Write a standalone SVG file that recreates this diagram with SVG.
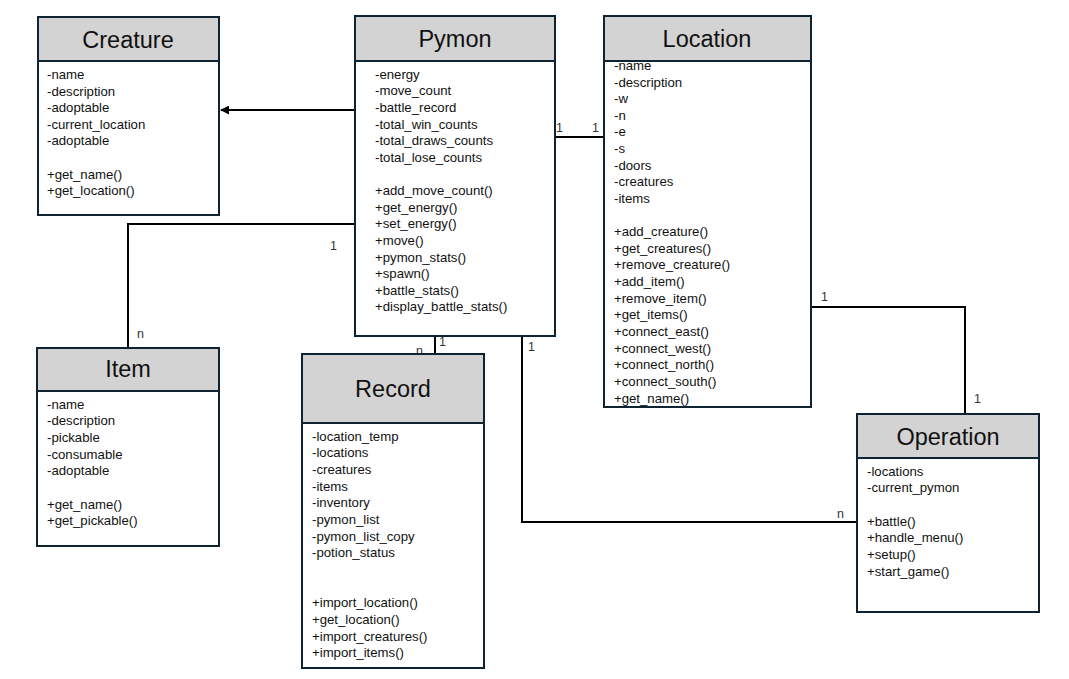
<svg xmlns="http://www.w3.org/2000/svg" width="1069" height="679" viewBox="0 0 1069 679">
<style>
.box{fill:#fff;stroke:#0e2433;stroke-width:2}
.hdr{fill:#d3d3d3;stroke:#0e2433;stroke-width:2}
.title{font-family:"Liberation Sans",Arial,sans-serif;font-size:23.5px;fill:#111;text-anchor:middle}
.t{font-family:"Liberation Sans",Arial,sans-serif;font-size:13.2px;fill:#111}
.lbl{font-family:"Liberation Sans",Arial,sans-serif;font-size:12.5px;fill:#333}
.c{fill:none;stroke:#000;stroke-width:2}
</style>
<defs>
<marker id="arr" viewBox="0 0 10 10" refX="9" refY="5" markerWidth="4.5" markerHeight="4.5" orient="auto" markerUnits="strokeWidth">
<path d="M0,0 L10,5 L0,10 z" fill="#000"/>
</marker>
</defs>
<rect width="1069" height="679" fill="#fff"/>
<g id="connectors">
<line class="c" x1="355" y1="110" x2="221" y2="110" marker-end="url(#arr)"/>
<line class="c" x1="555" y1="137" x2="604" y2="137"/>
<polyline class="c" points="355,224 128,224 128,348"/>
<line class="c" x1="435" y1="336" x2="435" y2="354"/>
<polyline class="c" points="522,336 522,522 857,522"/>
<polyline class="c" points="811,307 965,307 965,414"/>
<line class="c" x1="811" y1="198" x2="811" y2="310"/>
<text class="lbl" x="556" y="132">1</text>
<text class="lbl" x="592" y="132">1</text>
<text class="lbl" x="330" y="250">1</text>
<text class="lbl" x="137" y="338">n</text>
<text class="lbl" x="416" y="355">n</text>
<text class="lbl" x="439" y="346">1</text>
<text class="lbl" x="528" y="351">1</text>
<text class="lbl" x="837" y="518">n</text>
<text class="lbl" x="821" y="301">1</text>
<text class="lbl" x="974" y="403">1</text>
</g>
<g id="Creature">
<rect class="box" x="38" y="17" width="181" height="198"/>
<rect class="hdr" x="38" y="17" width="181" height="44"/>
<text class="title" x="128" y="48">Creature</text>
<text class="t" x="47" y="79">-name</text>
<text class="t" x="47" y="95.5">-description</text>
<text class="t" x="47" y="112">-adoptable</text>
<text class="t" x="47" y="128.5">-current_location</text>
<text class="t" x="47" y="145">-adoptable</text>
<text class="t" x="47" y="178.5">+get_name()</text>
<text class="t" x="47" y="195">+get_location()</text>
</g>
<g id="Pymon">
<rect class="box" x="355" y="16" width="200" height="320"/>
<rect class="hdr" x="355" y="16" width="200" height="45"/>
<text class="title" x="455" y="47">Pymon</text>
<text class="t" x="375" y="78.5">-energy</text>
<text class="t" x="375" y="95">-move_count</text>
<text class="t" x="375" y="111.5">-battle_record</text>
<text class="t" x="375" y="128.5">-total_win_counts</text>
<text class="t" x="375" y="145">-total_draws_counts</text>
<text class="t" x="375" y="161.5">-total_lose_counts</text>
<text class="t" x="375" y="194.5">+add_move_count()</text>
<text class="t" x="375" y="211.5">+get_energy()</text>
<text class="t" x="375" y="228">+set_energy()</text>
<text class="t" x="375" y="244.5">+move()</text>
<text class="t" x="375" y="261.5">+pymon_stats()</text>
<text class="t" x="375" y="278">+spawn()</text>
<text class="t" x="375" y="294.5">+battle_stats()</text>
<text class="t" x="375" y="311">+display_battle_stats()</text>
</g>
<g id="Location">
<rect class="box" x="604" y="16" width="207" height="391"/>
<rect class="hdr" x="604" y="16" width="207" height="45"/>
<text class="title" x="707" y="47">Location</text>
<text class="t" x="614" y="70">-name</text>
<text class="t" x="614" y="86.5">-description</text>
<text class="t" x="614" y="102.5">-w</text>
<text class="t" x="614" y="119.5">-n</text>
<text class="t" x="614" y="136">-e</text>
<text class="t" x="614" y="152.5">-s</text>
<text class="t" x="614" y="169.5">-doors</text>
<text class="t" x="614" y="186">-creatures</text>
<text class="t" x="614" y="202.5">-items</text>
<text class="t" x="614" y="235.5">+add_creature()</text>
<text class="t" x="614" y="252.5">+get_creatures()</text>
<text class="t" x="614" y="269">+remove_creature()</text>
<text class="t" x="614" y="285.5">+add_item()</text>
<text class="t" x="614" y="302.5">+remove_item()</text>
<text class="t" x="614" y="318.5">+get_items()</text>
<text class="t" x="614" y="335.5">+connect_east()</text>
<text class="t" x="614" y="352.5">+connect_west()</text>
<text class="t" x="614" y="369">+connect_north()</text>
<text class="t" x="614" y="385.5">+connect_south()</text>
<text class="t" x="614" y="402.5">+get_name()</text>
</g>
<g id="Item">
<rect class="box" x="37" y="348" width="182" height="198"/>
<rect class="hdr" x="37" y="348" width="182" height="43"/>
<text class="title" x="128" y="377">Item</text>
<text class="t" x="47" y="408.5">-name</text>
<text class="t" x="47" y="425">-description</text>
<text class="t" x="47" y="441.5">-pickable</text>
<text class="t" x="47" y="458.5">-consumable</text>
<text class="t" x="47" y="475">-adoptable</text>
<text class="t" x="47" y="508.5">+get_name()</text>
<text class="t" x="47" y="525">+get_pickable()</text>
</g>
<g id="Record">
<rect class="box" x="302" y="354" width="182" height="314"/>
<rect class="hdr" x="302" y="354" width="182" height="69"/>
<text class="title" x="393" y="397">Record</text>
<text class="t" x="312" y="440.5">-location_temp</text>
<text class="t" x="312" y="457">-locations</text>
<text class="t" x="312" y="473.5">-creatures</text>
<text class="t" x="312" y="490.5">-items</text>
<text class="t" x="312" y="507">-inventory</text>
<text class="t" x="312" y="523.5">-pymon_list</text>
<text class="t" x="312" y="540.5">-pymon_list_copy</text>
<text class="t" x="312" y="557">-potion_status</text>
<text class="t" x="312" y="606.5">+import_location()</text>
<text class="t" x="312" y="623.5">+get_location()</text>
<text class="t" x="312" y="640.5">+import_creatures()</text>
<text class="t" x="312" y="656.5">+import_items()</text>
</g>
<g id="Operation">
<rect class="box" x="857" y="414" width="182" height="198"/>
<rect class="hdr" x="857" y="414" width="182" height="44"/>
<text class="title" x="948" y="445">Operation</text>
<text class="t" x="867" y="475.5">-locations</text>
<text class="t" x="867" y="492">-current_pymon</text>
<text class="t" x="867" y="525.5">+battle()</text>
<text class="t" x="867" y="542">+handle_menu()</text>
<text class="t" x="867" y="558.5">+setup()</text>
<text class="t" x="867" y="575.5">+start_game()</text>
</g>
</svg>
